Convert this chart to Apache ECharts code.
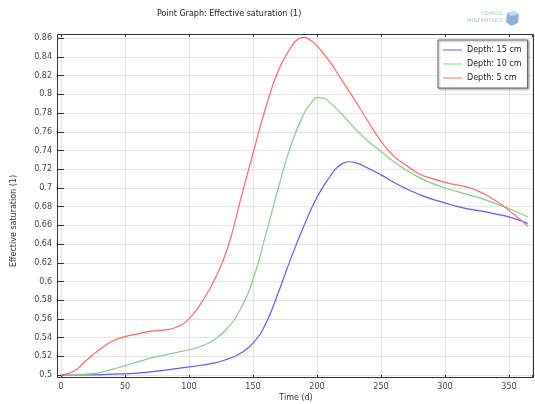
<!DOCTYPE html>
<html>
<head>
<meta charset="utf-8">
<script src="https://cdn.jsdelivr.net/npm/echarts@6/dist/echarts.min.js"></script>
<style>html,body{margin:0;padding:0;background:#fff;}#c{width:535px;height:404px;}</style>
</head>
<body>
<div id="c"></div>
<script>
var days15 = [0,20,40,60,80,100,120,130,140,150,160,170,180,190,200,210,215,220,225,230,240,250,260,270,280,290,300,310,320,330,340,350,365];
var depth15 = [0.500,0.500,0.501,0.502,0.505,0.5086,0.513,0.517,0.523,0.534,0.555,0.589,0.626,0.660,0.690,0.712,0.721,0.726,0.728,0.727,0.721,0.714,0.706,0.699,0.693,0.688,0.684,0.680,0.677,0.675,0.672,0.669,0.662];
var days10 = [0,10,20,30,40,50,60,70,80,90,100,110,120,130,140,150,160,170,180,190,195,200,205,210,220,230,240,250,260,270,280,290,300,310,320,330,340,350,365];
var depth10 = [0.500,0.500,0.501,0.5025,0.506,0.510,0.514,0.518,0.521,0.524,0.527,0.531,0.538,0.550,0.570,0.602,0.650,0.701,0.747,0.780,0.790,0.7965,0.796,0.7915,0.778,0.763,0.750,0.739,0.728,0.719,0.711,0.705,0.700,0.696,0.692,0.688,0.683,0.678,0.669];
var days5 = [0,10,20,30,40,50,60,70,80,90,100,110,120,130,140,150,160,170,180,185,190,195,200,210,220,230,240,250,260,270,280,290,300,310,320,330,340,350,365];
var depth5 = [0.500,0.504,0.516,0.527,0.536,0.541,0.544,0.547,0.548,0.551,0.560,0.578,0.602,0.635,0.686,0.737,0.786,0.826,0.851,0.859,0.861,0.858,0.852,0.835,0.814,0.793,0.771,0.750,0.734,0.724,0.715,0.710,0.706,0.703,0.700,0.694,0.686,0.676,0.659];
var seriesNames = ['Depth: 15 cm','Depth: 10 cm','Depth: 5 cm'];
var xTicks = [0,50,100,150,200,250,300,350];
var yTicks = [0.5,0.52,0.54,0.56,0.58,0.6,0.62,0.64,0.66,0.68,0.7,0.72,0.74,0.76,0.78,0.8,0.82,0.84,0.86];

function pairs(ds, vals){ return ds.map(function(d,i){ return [d, vals[i]]; }); }
var colors = ['#5b5bff','#80d080','#ff6666'];
var FONT = 'DejaVu Sans';
var chart = echarts.init(document.getElementById('c'), null, {renderer:'canvas'});

function xfmt(v){ return xTicks.indexOf(Math.round(v)) >= 0 && Math.abs(v-Math.round(v))<1e-6 ? String(Math.round(v)) : ''; }
function yfmt(v){ for (var i=0;i<yTicks.length;i++){ if (Math.abs(v-yTicks[i])<1e-6) return String(yTicks[i]); } return ''; }

var seriesData = [pairs(days15, depth15), pairs(days10, depth10), pairs(days5, depth5)];
var series = seriesData.map(function(data, i){
  return {
    name: seriesNames[i], type:'line', data: data, smooth: 0.5,
    showSymbol:false, symbol:'none', clip:false,
    lineStyle:{color:colors[i], width:1.2}, itemStyle:{color:colors[i]},
    xAxisIndex:0, yAxisIndex:0, z: 3+i
  };
});

var option = {
  animation:false,
  backgroundColor:'#fff',
  title:{ text:'Point Graph: Effective saturation (1)', left:152, top:5,
    textStyle:{fontFamily:FONT, fontSize:8, fontWeight:'normal', color:'#222'} },
  legend:{
    data: seriesNames, orient:'vertical', left:438, top:40,
    padding:[6,6,6,5], itemGap:6, itemWidth:19, itemHeight:10,
    icon:'path://M0,0H20V1H0Z',
    borderColor:'#666', borderWidth:1, backgroundColor:'#fff',
    shadowColor:'rgba(0,0,0,0.35)', shadowBlur:2, shadowOffsetX:1, shadowOffsetY:1,
    textStyle:{fontFamily:FONT, fontSize:8, color:'#222', padding:[0,0,0,0]}
  },
  grid:{left:61, right:1, top:34, bottom:29},
  xAxis:[{
    type:'value', min:0, max:368, interval:50, offset:3,
    axisLine:{show:false},
    axisTick:{show:true, inside:true, length:3, lineStyle:{color:'#333'}},
    axisLabel:{formatter:xfmt, fontFamily:FONT, fontSize:8, color:'#444', margin:5},
    splitLine:{show:true, lineStyle:{color:'#e4e4e4', width:1}}
  },{
    type:'value', position:'top', min:0, max:368, interval:50,
    axisLine:{show:false},
    axisTick:{show:true, inside:true, length:3, lineStyle:{color:'#333'}},
    axisLabel:{show:false}, splitLine:{show:false}
  }],
  yAxis:[{
    type:'value', min:0.5, max:0.8646, interval:0.02, offset:4,
    axisLine:{show:false},
    axisTick:{show:true, inside:true, length:3, lineStyle:{color:'#333'}},
    axisLabel:{formatter:yfmt, fontFamily:FONT, fontSize:8, color:'#444', margin:5},
    splitLine:{show:true, lineStyle:{color:'#e4e4e4', width:1}}
  },{
    type:'value', position:'right', min:0.5, max:0.8646, interval:0.02,
    axisLine:{show:false},
    axisTick:{show:true, inside:true, length:3, lineStyle:{color:'#333'}},
    axisLabel:{show:false}, splitLine:{show:false}
  }],
  graphic:[
    {type:'rect', shape:{x:57.5, y:34.5, width:476, height:343}, style:{fill:'none', stroke:'#333', lineWidth:1}, z:10, silent:true},
    {type:'text', x:296, y:398, style:{text:'Time (d)', font:'8px "DejaVu Sans"', fill:'#333', align:'center', verticalAlign:'middle'}},
    {type:'text', x:14, y:221, rotation:Math.PI/2, style:{text:'Effective saturation (1)', font:'8px "DejaVu Sans"', fill:'#333', align:'center', verticalAlign:'middle'}},
    {type:'text', x:503, y:14, style:{text:'COMSOL', font:'5px "DejaVu Sans"', fill:'#a9bfd6', align:'right', verticalAlign:'middle'}},
    {type:'text', x:503, y:21, style:{text:'MULTIPHYSICS', font:'5px "DejaVu Sans"', fill:'#a9bfd6', align:'right', verticalAlign:'middle'}},
    {type:'polygon', shape:{points:[[507,13],[514,11],[519,14],[518,23],[511,26],[506,22]]}, style:{fill:'#8fb3d6'}},
    {type:'polygon', shape:{points:[[507,13],[514,11],[519,14],[512,16]]}, style:{fill:'#c6daee'}}
  ],
  series: series
};
chart.setOption(option);
</script>
</body>
</html>
